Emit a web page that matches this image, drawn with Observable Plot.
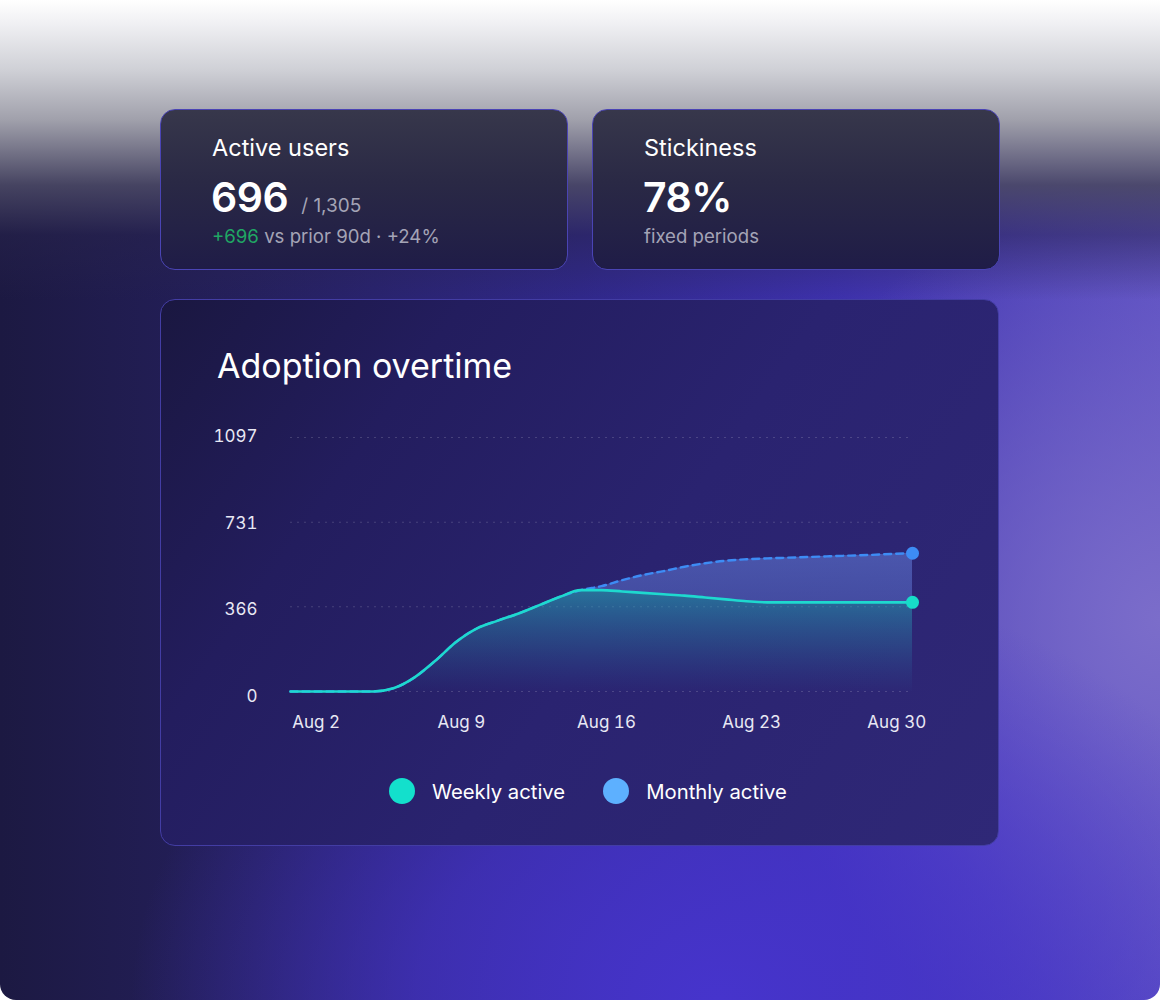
<!DOCTYPE html>
<html>
<head>
<meta charset="utf-8">
<script src="https://cdn.jsdelivr.net/npm/d3@7"></script>
<script src="https://cdn.jsdelivr.net/npm/@observablehq/plot@0.6"></script>
<style>
  html, body { margin: 0; padding: 0; background: #ffffff; }
  body { width: 1160px; height: 1000px; position: relative; overflow: hidden; font-family: Inter, "Noto Sans", sans-serif; }
  .page {
    position: absolute; left: 0; top: 0; width: 1160px; height: 1000px;
    border-radius: 0 0 16px 16px; overflow: hidden;
    background:
      linear-gradient(180deg, #ffffff 0px, #f1f1f4 22px, #cfd0d6 70px, #a0a0ab 120px, rgba(74,72,100,0.9) 185px, rgba(40,36,76,0.5) 235px, rgba(40,36,76,0) 300px),
      radial-gradient(ellipse 65% 55% at 62% 100%, #4634cc 0%, rgba(70,52,204,0.65) 40%, rgba(70,52,204,0) 78%),
      radial-gradient(ellipse 35% 45% at 100% 62%, #7b6dca 0%, rgba(123,109,202,0) 100%),
      linear-gradient(90deg, #1c1942 0%, #25205e 22%, #30288a 50%, #3d31ac 72%, #5a4dc2 100%);
  }
  .card {
    position: absolute; box-sizing: border-box; border-radius: 15px;
    border: 1.5px solid #4a44b4;
    background: linear-gradient(180deg, #37374b 0%, #2a2945 45%, #1f1c47 100%);
  }
  .card .label { position: absolute; left: 51px; top: 23px; font-size: 23.5px; font-weight: 400; color: #ffffff; }
  .card .big { position: absolute; left: 50px; top: 62px; font-size: 41px; font-weight: 600; color: #ffffff; letter-spacing: -0.5px; }
  .card .of { font-size: 19px; font-weight: 400; color: #a4a4b6; margin-left: 13px; letter-spacing: 0; }
  .card .sub { position: absolute; left: 51px; top: 115px; font-size: 18.6px; color: #a4a4b6; }
  .card .sub .pos { color: #20a764; }
  .chartcard {
    position: absolute; left: 160px; top: 299px; width: 839px; height: 547px; box-sizing: border-box;
    border-radius: 15px; border: 1.5px solid #433da4;
    background: linear-gradient(125deg, #1a1740 0%, #231d5e 25%, #2a2370 55%, #2f2877 100%);
  }
  .title { position: absolute; left: 217px; top: 345px; font-size: 34px; font-weight: 400; color: #ffffff; }
  #chart { position: absolute; left: 200px; top: 420px; }
  .legend { position: absolute; top: 778px; left: 389px; display: flex; align-items: center; font-size: 20.3px; color: #ffffff; }
  .legend .item { display: flex; align-items: center; }
  .legend .sw { width: 26px; height: 26px; border-radius: 50%; margin-right: 17px; }
</style>
</head>
<body>
<div class="page"></div>
<div class="card" style="left:160px; top:109px; width:408px; height:161px;">
  <div class="label">Active users</div>
  <div class="big">696<span class="of">/ 1,305</span></div>
  <div class="sub"><span class="pos">+696</span> vs prior 90d · +24%</div>
</div>
<div class="card" style="left:592px; top:109px; width:408px; height:161px;">
  <div class="label">Stickiness</div>
  <div class="big">78%</div>
  <div class="sub">fixed periods</div>
</div>
<div class="chartcard"></div>
<div class="title">Adoption overtime</div>
<div id="chart"></div>
<div class="legend" id="legend"></div>

<script>
// ---- data ----
const days = [1,2,3,4,5,6,7,8,9,10,11,12,13,14,15,16,17,18,19,20,21,22,23,24,25,26,27,28,29,30,31];
const weeklyActive = [0,0,0,0,0,15,62,134,215,273,306,337,373,409,438,438,432,426,420,414,406,398,390,385,385,385,385,385,385,385,385];
const monthlyActive = [0,0,0,0,0,15,62,134,215,273,306,337,373,409,438,455,481,503,520,539,554,565,571,575,578,581,584,587,590,594,597];
const seriesNames = ["Weekly active", "Monthly active"];
const legendColors = ["#13e0cc", "#5db0ff"];
const xTickDays = [2, 9, 16, 23, 30];
const xTickLabels = ["Aug 2", "Aug 9", "Aug 16", "Aug 23", "Aug 30"];
const yTicks = [0, 366, 731, 1097];
const yTickLabels = ["0", "366", "731", "1097"];

const toDate = d => new Date(Date.UTC(2024, 7, d));
const data = days.map((d, i) => ({ date: toDate(d), weekly: weeklyActive[i], monthly: monthlyActive[i] }));
const last = data[data.length - 1];
const xTicks = xTickDays.map(toDate);
const yLabelShift = [5, 3, 1, -1];

const chart = Plot.plot({
  width: 740,
  height: 320,
  marginLeft: 90,
  marginRight: 28,
  marginTop: 17,
  marginBottom: 49,
  style: { background: "transparent", color: "#e8e8f4", fontFamily: "Inter, sans-serif", fontSize: "17px", overflow: "visible" },
  x: { type: "utc", domain: [data[0].date, last.date] },
  y: { domain: [0, 1097] },
  marks: [
    Plot.ruleY(yTicks, { stroke: "#ffffff", strokeOpacity: 0.16, strokeDasharray: "2,5", strokeWidth: 1 }),
    Plot.areaY(data, { x: "date", y1: "weekly", y2: "monthly", fill: "url(#gradM)", curve: "monotone-x" }),
    Plot.areaY(data, { x: "date", y: "weekly", fill: "url(#gradW)", curve: "monotone-x" }),
    Plot.line(data, { x: "date", y: "monthly", stroke: "#3d8cf5", strokeWidth: 2.4, strokeDasharray: "7,5", curve: "monotone-x" }),
    Plot.line(data, { x: "date", y: "weekly", stroke: "#1ed9cf", strokeWidth: 2.6, curve: "monotone-x" }),
    Plot.dot([last], { x: "date", y: "monthly", r: 6.5, fill: "#3d8cf5" }),
    Plot.dot([last], { x: "date", y: "weekly", r: 6.5, fill: "#17dcc8" }),
    ...yTicks.map((t, i) => Plot.axisY({ ticks: [t], tickSize: 0, tickPadding: 33, tickFormat: () => yTickLabels[i], label: null, dy: yLabelShift[i] })),
    Plot.axisX({ ticks: xTicks, tickSize: 0, tickPadding: 24, tickFormat: d => xTickLabels[xTicks.findIndex(t => +t === +d)], label: null, dx: 5 })
  ]
});

// gradients for the areas
const svg = d3.select(chart.tagName.toLowerCase() === "svg" ? chart : chart.querySelector("svg"));
const defs = svg.insert("defs", ":first-child");
const gW = defs.append("linearGradient").attr("id", "gradW").attr("x1", 0).attr("y1", 0).attr("x2", 0).attr("y2", 1);
gW.append("stop").attr("offset", "0%").attr("stop-color", "#26b4bf").attr("stop-opacity", 0.55);
gW.append("stop").attr("offset", "55%").attr("stop-color", "#2a8fb0").attr("stop-opacity", 0.28);
gW.append("stop").attr("offset", "100%").attr("stop-color", "#2a6fb0").attr("stop-opacity", 0.02);
const gM = defs.append("linearGradient").attr("id", "gradM").attr("x1", 0).attr("y1", 0).attr("x2", 0).attr("y2", 1);
gM.append("stop").attr("offset", "0%").attr("stop-color", "#6c8ceb").attr("stop-opacity", 0.48);
gM.append("stop").attr("offset", "100%").attr("stop-color", "#5a74d8").attr("stop-opacity", 0.3);

document.getElementById("chart").appendChild(chart);

// legend
const legend = document.getElementById("legend");
seriesNames.forEach((name, i) => {
  const item = document.createElement("div");
  item.className = "item";
  item.style.marginRight = i === 0 ? "38px" : "0";
  const sw = document.createElement("span");
  sw.className = "sw";
  sw.style.background = legendColors[i];
  const tx = document.createElement("span");
  tx.textContent = name;
  item.appendChild(sw);
  item.appendChild(tx);
  legend.appendChild(item);
});
</script>
</body>
</html>
